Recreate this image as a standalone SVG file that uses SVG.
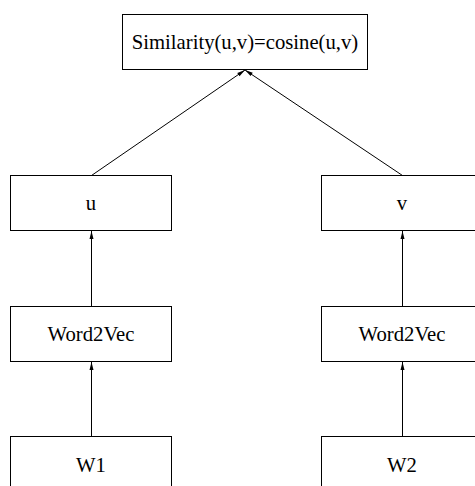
<svg xmlns="http://www.w3.org/2000/svg" width="475" height="486" viewBox="0 0 475 486">
<style>
.box{fill:#fff;stroke:#000;stroke-width:1}
.lbl{font-family:"Liberation Serif","Times New Roman",serif;font-size:20.7px;fill:#000;text-anchor:middle}
.edge{stroke:#000;stroke-width:1;fill:none;marker-end:url(#ah)}
</style>
<defs>
<marker id="ah" markerUnits="userSpaceOnUse" markerWidth="10" markerHeight="10" viewBox="0 0 10 10" refX="9" refY="5" orient="auto">
<path d="M1,3 L9,5 L1,7 Z" fill="#000"/>
</marker>
</defs>
<rect width="475" height="486" fill="#fff"/>
<g id="connectors">
<line class="edge" x1="91.5" y1="175.5" x2="245" y2="70"/>
<line class="edge" x1="402.5" y1="175.5" x2="245" y2="70"/>
<line class="edge" x1="91.5" y1="306.5" x2="91.5" y2="231"/>
<line class="edge" x1="402.5" y1="306.5" x2="402.5" y2="231"/>
<line class="edge" x1="91.5" y1="436.5" x2="91.5" y2="362"/>
<line class="edge" x1="402.5" y1="436.5" x2="402.5" y2="362"/>
</g>
<g id="sim">
<rect class="box" x="122.5" y="14.5" width="245" height="55"/>
<text class="lbl" x="245" y="49.3">Similarity(u,v)=cosine(u,v)</text>
</g>
<g id="u">
<rect class="box" x="10.5" y="175.5" width="161" height="55"/>
<text class="lbl" x="91" y="210.3">u</text>
</g>
<g id="v">
<rect class="box" x="321.5" y="175.5" width="161" height="55"/>
<text class="lbl" x="402" y="210.3">v</text>
</g>
<g id="w2v1">
<rect class="box" x="10.5" y="306.5" width="161" height="55"/>
<text class="lbl" x="91" y="341.2">Word2Vec</text>
</g>
<g id="w2v2">
<rect class="box" x="321.5" y="306.5" width="161" height="55"/>
<text class="lbl" x="402" y="341.2">Word2Vec</text>
</g>
<g id="w1">
<rect class="box" x="10.5" y="436.5" width="161" height="55"/>
<text class="lbl" x="91" y="471.5">W1</text>
</g>
<g id="w2">
<rect class="box" x="321.5" y="436.5" width="161" height="55"/>
<text class="lbl" x="402" y="471.5">W2</text>
</g>
</svg>
